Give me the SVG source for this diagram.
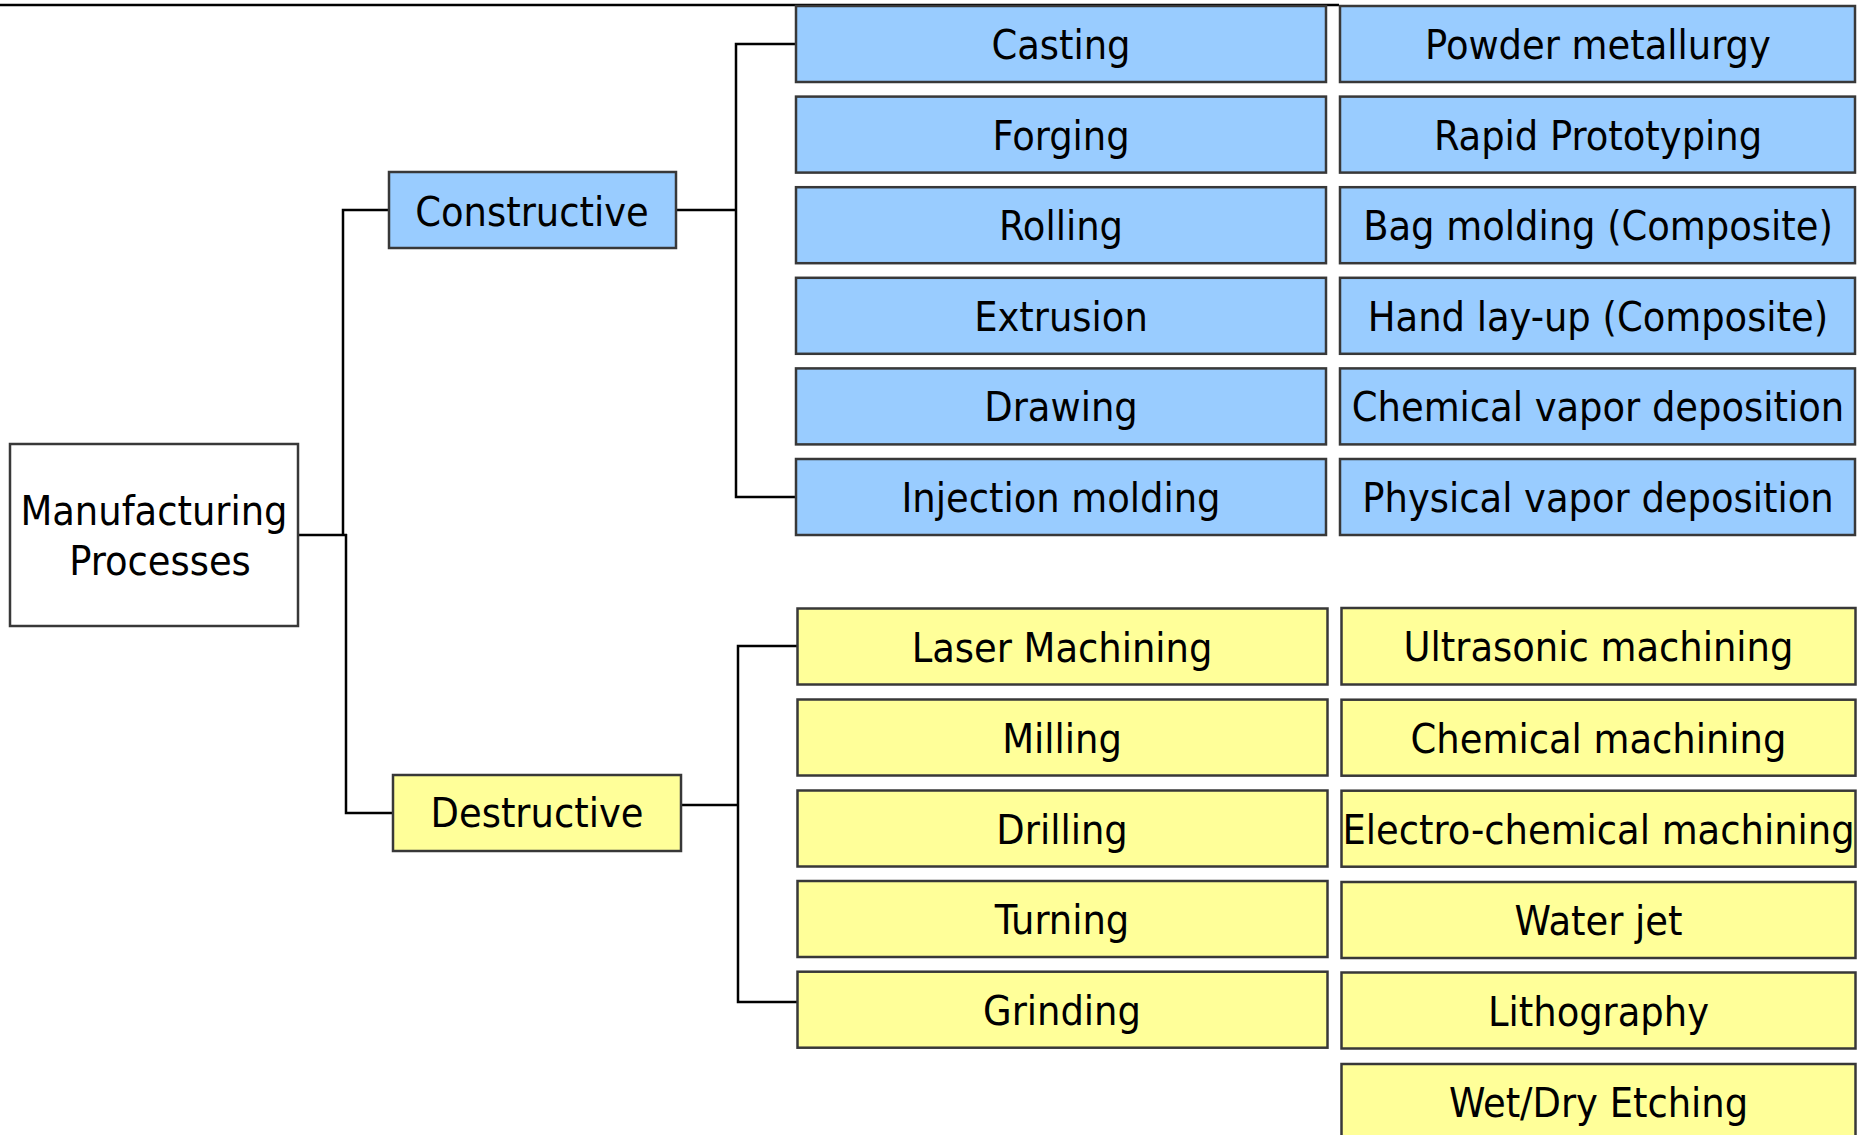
<svg xmlns="http://www.w3.org/2000/svg" width="1857" height="1135" viewBox="0 0 1857 1135">
<style>
  .box { stroke: #383838; stroke-width: 2.5; }
  .root { fill: #ffffff; }
  .blue { fill: #99ccff; }
  .yellow { fill: #ffff99; }
  text { font-family: "DejaVu Sans Condensed", "DejaVu Sans", sans-serif; font-size: 41px; fill: #000000; text-anchor: middle; font-stretch: condensed; }
  .conn { fill: none; stroke: #000000; stroke-width: 2.5; }
</style>
<rect x="0" y="0" width="1857" height="1135" fill="#ffffff"/>
<line x1="0" y1="5" x2="1339" y2="5" stroke="#000000" stroke-width="2.5"/>
<g id="connectors">
  <path class="conn" d="M298,535 H347"/>
  <path class="conn" d="M343,536 V210 H389"/>
  <path class="conn" d="M346,534 V813 H393"/>
  <path class="conn" d="M676,210 H737"/>
  <path class="conn" d="M796,44 H736 V497 H796"/>
  <path class="conn" d="M680,805 H739"/>
  <path class="conn" d="M797,646 H738 V1002 H797"/>
</g>
<g id="node-root"><rect class="box root" x="10" y="444" width="288" height="182"/><text x="154" y="525">Manufacturing</text><text x="160" y="575">Processes</text></g>
<g id="node-constructive"><rect class="box blue" x="389" y="172" width="287" height="76"/><text x="532" y="226">Constructive</text></g>
<g id="node-destructive"><rect class="box yellow" x="393" y="775" width="288" height="76"/><text x="537" y="827">Destructive</text></g>
<g id="node-casting"><rect class="box blue" x="796" y="6" width="530" height="76"/><text x="1061" y="59">Casting</text></g>
<g id="node-forging"><rect class="box blue" x="796" y="96.6" width="530" height="76"/><text x="1061" y="149.6">Forging</text></g>
<g id="node-rolling"><rect class="box blue" x="796" y="187.2" width="530" height="76"/><text x="1061" y="240.2">Rolling</text></g>
<g id="node-extrusion"><rect class="box blue" x="796" y="277.8" width="530" height="76"/><text x="1061" y="330.8">Extrusion</text></g>
<g id="node-drawing"><rect class="box blue" x="796" y="368.4" width="530" height="76"/><text x="1061" y="421.4">Drawing</text></g>
<g id="node-injection"><rect class="box blue" x="796" y="459" width="530" height="76"/><text x="1061" y="512">Injection molding</text></g>
<g id="node-powder"><rect class="box blue" x="1340" y="6" width="515" height="76"/><text x="1598" y="59">Powder metallurgy</text></g>
<g id="node-rapid"><rect class="box blue" x="1340" y="96.6" width="515" height="76"/><text x="1598" y="149.6">Rapid Prototyping</text></g>
<g id="node-bag"><rect class="box blue" x="1340" y="187.2" width="515" height="76"/><text x="1598" y="240.2">Bag molding (Composite)</text></g>
<g id="node-handlayup"><rect class="box blue" x="1340" y="277.8" width="515" height="76"/><text x="1598" y="330.8">Hand lay-up (Composite)</text></g>
<g id="node-cvd"><rect class="box blue" x="1340" y="368.4" width="515" height="76"/><text x="1598" y="421.4">Chemical vapor deposition</text></g>
<g id="node-pvd"><rect class="box blue" x="1340" y="459" width="515" height="76"/><text x="1598" y="512">Physical vapor deposition</text></g>
<g id="node-laser"><rect class="box yellow" x="797.5" y="608.5" width="530" height="76"/><text x="1062" y="661.5">Laser Machining</text></g>
<g id="node-milling"><rect class="box yellow" x="797.5" y="699.5" width="530" height="76"/><text x="1062" y="752.5">Milling</text></g>
<g id="node-drilling"><rect class="box yellow" x="797.5" y="790.5" width="530" height="76"/><text x="1062" y="843.5">Drilling</text></g>
<g id="node-turning"><rect class="box yellow" x="797.5" y="881" width="530" height="76"/><text x="1062" y="934">Turning</text></g>
<g id="node-grinding"><rect class="box yellow" x="797.5" y="971.7" width="530" height="76"/><text x="1062" y="1024.7">Grinding</text></g>
<g id="node-ultrasonic"><rect class="box yellow" x="1341.5" y="608" width="514" height="76.5"/><text x="1598.5" y="661">Ultrasonic machining</text></g>
<g id="node-chemical"><rect class="box yellow" x="1341.5" y="699.7" width="514" height="76"/><text x="1598.5" y="752.7">Chemical machining</text></g>
<g id="node-ecm"><rect class="box yellow" x="1341.5" y="790.7" width="514" height="76"/><text x="1598.5" y="843.7">Electro-chemical machining</text></g>
<g id="node-waterjet"><rect class="box yellow" x="1341.5" y="882" width="514" height="76"/><text x="1598.5" y="935">Water jet</text></g>
<g id="node-litho"><rect class="box yellow" x="1341.5" y="972.5" width="514" height="76"/><text x="1598.5" y="1025.5">Lithography</text></g>
<g id="node-etching"><rect class="box yellow" x="1341.5" y="1064" width="514" height="80"/><text x="1598.5" y="1117">Wet/Dry Etching</text></g>
</svg>
